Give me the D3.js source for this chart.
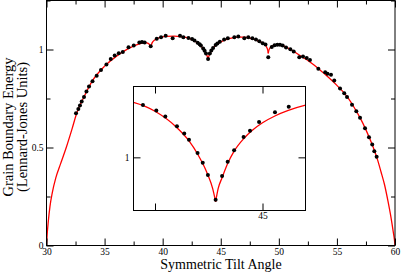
<!DOCTYPE html>
<html><head><meta charset="utf-8">
<script src="https://cdn.jsdelivr.net/npm/d3@7"></script>
<style>
body{margin:0;background:#fff}
svg{display:block}
svg text{font-family:'Liberation Serif','DejaVu Serif',Times,serif !important;fill:#000}
</style>
</head><body>
<svg id="c" width="401" height="273"></svg>
<script>
// ---- data ----
const dataAngle = [32.54,32.74,32.88,33.03,33.23,33.44,33.66,33.96,34.32,34.69,35.16,35.53,35.87,36.22,36.57,37.06,37.51,37.99,38.22,38.45,38.97,39.49,39.86,40.26,40.86,41.49,41.78,
  42.22,42.53,42.74,43.01,43.18,43.29,43.49,43.61,43.73,43.91,44.06,44.19,44.34,44.56,44.71,44.92,45.29,45.61,
  46.17,46.51,47.03,47.37,47.72,48.03,48.32,48.61,48.85,49.09,49.39,49.63,49.87,50.10,50.33,50.62,50.99,51.28,51.76,52.08,52.40,52.68,53.40,53.99,54.19,54.49,54.77,55.27,55.63,55.87,56.30,56.67,56.99,57.42,57.76,58.04,58.22,58.42];
const dataEnergy = [0.675,0.697,0.714,0.735,0.758,0.786,0.811,0.838,0.866,0.896,0.924,0.951,0.969,0.981,0.987,1.012,1.020,1.036,1.038,1.036,1.017,1.055,1.063,1.070,1.058,1.070,1.063,
  1.059,1.053,1.046,1.035,1.027,1.020,1.005,0.994,0.980,0.952,0.979,0.995,1.008,1.023,1.030,1.040,1.051,1.057,
  1.063,1.066,1.058,1.063,1.058,1.051,1.042,1.032,1.026,0.961,1.013,1.022,1.024,1.024,1.020,1.010,1.001,0.990,0.961,0.964,0.957,0.946,0.902,0.884,0.876,0.871,0.842,0.801,0.777,0.758,0.718,0.685,0.652,0.598,0.552,0.515,0.481,0.453];

// theory curve (red); cusps split it into pieces
const curveAngle = [30,30.05,30.15,30.3,30.5,30.8,31.2,31.7,32.2,32.6,33.2,34.0,35.0,36.0,37.0,37.8,38.5,38.8,38.97,
  39.1,39.34,39.8,40.3,41.0,41.5,42.0,42.5,43.0,43.3,43.5,43.65,43.73,43.84,43.91,
  43.97,44.06,44.19,44.34,44.56,44.75,45.0,45.3,45.6,46.0,46.5,47.0,47.5,48.0,48.4,48.8,48.95,49.05,49.09,
  49.15,49.3,49.5,49.8,50.1,50.5,51.0,51.5,52.0,52.5,53.0,53.5,54.0,54.5,55.0,55.5,56.0,56.5,57.0,57.5,58.0,58.5,58.8,59.1,59.4,59.65,59.85,59.95,60];
const curveEnergy = [0,0.05,0.12,0.20,0.27,0.345,0.415,0.50,0.595,0.675,0.755,0.845,0.915,0.965,1.003,1.025,1.035,1.03,1.012,
  1.035,1.05,1.062,1.067,1.068,1.066,1.062,1.052,1.034,1.018,1.003,0.989,0.980,0.965,0.950,
  0.965,0.977,0.993,1.007,1.021,1.030,1.039,1.047,1.053,1.059,1.063,1.063,1.058,1.049,1.039,1.028,1.012,0.995,0.980,
  0.998,1.012,1.020,1.024,1.023,1.016,1.001,0.982,0.962,0.944,0.922,0.898,0.872,0.846,0.817,0.786,0.749,0.703,0.651,0.590,0.520,0.437,0.375,0.31,0.225,0.145,0.07,0.03,0];
const cuspAngle = [38.97,43.91,49.09];

const xMajor = [30,35,40,45,50,55,60];
const xMinor = [32.5,37.5,42.5,47.5,52.5,57.5];
const yMajor = [0,0.5,1];
const yMinor = [0.25,0.75,1.25];
const insetXMajor = [42.5,45];
const insetXLabel = [45];
const insetYMajor = [1];

const xLabel = "Symmetric Tilt Angle";
const yLabel1 = "Grain Boundary Energy";
const yLabel2 = "(Lennard-Jones Units)";

// ---- drawing ----
const FONT = "'Liberation Serif','DejaVu Serif',Times,serif";
const svg = d3.select("#c");
svg.append("rect").attr("width",401).attr("height",273).attr("fill","#fff");

const x = d3.scaleLinear().domain([30,60]).range([46.5,395]);
const y = d3.scaleLinear().domain([0,1.25]).range([245.5,0.5]);

const pts = dataAngle.map((a,i)=>({a:a,e:dataEnergy[i]}));
const cpts = curveAngle.map((a,i)=>({a:a,e:curveEnergy[i]}));
const bounds = [30].concat(cuspAngle).concat([60]);
const pieces = [];
for(let i=0;i<bounds.length-1;i++){
  pieces.push(cpts.filter(p=>p.a>=bounds[i]-1e-9 && p.a<=bounds[i+1]+1e-9));
}

function drawPanel(g, xs, ys, opts){
  const line = d3.line().x(d=>xs(d.a)).y(d=>ys(d.e)).curve(d3.curveMonotoneX);
  const [x0,x1] = xs.range(), [y0,y1] = ys.range();
  g.append("clipPath").attr("id",opts.clip).append("rect")
    .attr("x",x0).attr("y",y1-1).attr("width",x1-x0).attr("height",y0-y1+1);
  const body = g.append("g").attr("clip-path",`url(#${opts.clip})`);
  pieces.forEach(p=>{
    body.append("path").attr("d",line(p)).attr("fill","none")
      .attr("stroke","#ff0000").attr("stroke-width",1.3);
  });
  body.selectAll("circle").data(pts.filter(p=>p.a>=xs.domain()[0]-0.1 && p.a<=xs.domain()[1]+0.1))
    .join("circle").attr("cx",d=>xs(d.a)).attr("cy",d=>ys(d.e)).attr("r",2).attr("fill","#000");
}

function axes(g, xs, ys, o){
  const [x0,x1] = xs.range(), [y0,y1] = ys.range();
  const styleAx = sel=>{ sel.attr("font-family",FONT).attr("font-size",9.5);
    sel.select(".domain").remove();
    sel.selectAll("line").attr("stroke","#000").attr("stroke-width",1);
    sel.selectAll("text").attr("font-family",FONT).style("font-size","9.5px"); };
  g.append("g").attr("transform",`translate(0,${y0})`)
    .call(d3.axisBottom(xs).tickValues(o.xMajor).tickSizeInner(-7).tickSizeOuter(0).tickPadding(o.xPad)
      .tickFormat(d=>o.xLabels.includes(d)?d3.format("~g")(d):""))
    .call(styleAx);
  g.append("g").attr("transform",`translate(0,${y0})`)
    .call(d3.axisBottom(xs).tickValues(o.xMinor).tickSizeInner(-4).tickSizeOuter(0).tickFormat(""))
    .call(styleAx);
  g.append("g").attr("transform",`translate(0,${y1})`)
    .call(d3.axisTop(xs).tickValues(o.xMajor).tickSizeInner(-7).tickSizeOuter(0).tickFormat(""))
    .call(styleAx);
  g.append("g").attr("transform",`translate(0,${y1})`)
    .call(d3.axisTop(xs).tickValues(o.xMinor).tickSizeInner(-4).tickSizeOuter(0).tickFormat(""))
    .call(styleAx);
  g.append("g").attr("transform",`translate(${x0},0)`)
    .call(d3.axisLeft(ys).tickValues(o.yMajor).tickSizeInner(-7).tickSizeOuter(0).tickPadding(o.yPad)
      .tickFormat(d3.format("~g")))
    .call(styleAx);
  g.append("g").attr("transform",`translate(${x0},0)`)
    .call(d3.axisLeft(ys).tickValues(o.yMinor).tickSizeInner(-4).tickSizeOuter(0).tickFormat(""))
    .call(styleAx);
  g.append("g").attr("transform",`translate(${x1},0)`)
    .call(d3.axisRight(ys).tickValues(o.yMajor).tickSizeInner(-7).tickSizeOuter(0).tickFormat(""))
    .call(styleAx);
  g.append("g").attr("transform",`translate(${x1},0)`)
    .call(d3.axisRight(ys).tickValues(o.yMinor).tickSizeInner(-4).tickSizeOuter(0).tickFormat(""))
    .call(styleAx);
  g.append("rect").attr("x",x0).attr("y",y1).attr("width",x1-x0).attr("height",y0-y1)
    .attr("fill","none").attr("stroke","#000").attr("stroke-width",1);
}

const main = svg.append("g");
drawPanel(main, x, y, {clip:"clipMain"});
axes(main, x, y, {xMajor:xMajor, xMinor:xMinor, xLabels:xMajor, xPad:3, yMajor:yMajor, yMinor:yMinor, yPad:3});

const xi = d3.scaleLinear().domain([42,46]).range([133.5,305.5]);
const yi = d3.scaleLinear().domain([0.94,1.08]).range([210.5,86.5]);
const inset = svg.append("g");
inset.append("rect").attr("x",133.5).attr("y",86.5).attr("width",172).attr("height",124).attr("fill","#fff");
drawPanel(inset, xi, yi, {clip:"clipInset"});
axes(inset, xi, yi, {xMajor:insetXMajor, xMinor:[], xLabels:insetXLabel, xPad:2, yMajor:insetYMajor, yMinor:[], yPad:4});

svg.append("text").attr("x",221).attr("y",269).attr("text-anchor","middle")
  .attr("font-family",FONT).style("font-size","14px").text(xLabel);
svg.append("text").attr("transform","translate(13,127) rotate(-90)").attr("text-anchor","middle")
  .attr("font-family",FONT).style("font-size","14.5px").text(yLabel1);
svg.append("text").attr("transform","translate(26.5,127) rotate(-90)").attr("text-anchor","middle")
  .attr("font-family",FONT).style("font-size","14.5px").text(yLabel2);
</script>
</body></html>
